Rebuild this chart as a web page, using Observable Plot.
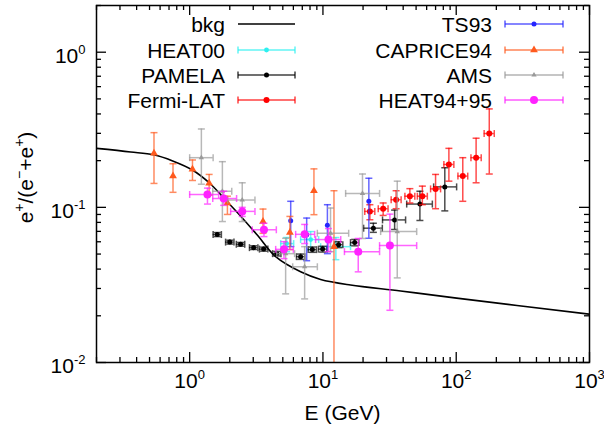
<!DOCTYPE html>
<html><head><meta charset="utf-8">
<script src="https://cdn.jsdelivr.net/npm/d3@7"></script>
<script src="https://cdn.jsdelivr.net/npm/@observablehq/plot@0.6"></script>
<style>body{margin:0;background:#fff;}</style>
</head><body><div id="chart"></div>
<script>
// ---- background model ----
const bkgE = [0.2, 0.361, 0.537, 0.746, 1.048, 1.413, 1.93, 2.54, 3.24, 4.42, 6.8, 9.61, 16.1, 38.3, 100.7, 1000];
const bkgR = [0.240, 0.2276, 0.218, 0.199, 0.174, 0.143, 0.1078, 0.0836, 0.0658, 0.0481, 0.0384, 0.0343, 0.0316, 0.0289, 0.0260, 0.0205];

// ---- HEAT00 ----
const heat00E = [5.34, 8.09, 12.5];
const heat00Elo = [4.82, 6.8, 9.61];
const heat00Ehi = [6.03, 9.29, 16.1];
const heat00R = [0.0584, 0.062, 0.0558];
const heat00Rlo = [0.0518, 0.0534, 0.046];
const heat00Rhi = [0.0639, 0.0698, 0.0639];

// ---- PAMELA ----
const pamelaE = [1.61, 2.0, 2.41, 3.02, 3.59, 4.5, 6.8, 8.33, 9.95, 13.1, 17.3, 23.9, 34.5, 53.4, 82.1];
const pamelaElo = [1.50, 1.86, 2.24, 2.81, 3.34, 4.19, 6.33, 7.75, 9.26, 12.2, 16.1, 20.2, 28.0, 42.5, 67.7];
const pamelaEhi = [1.73, 2.15, 2.59, 3.25, 3.86, 4.84, 7.31, 8.95, 10.7, 14.1, 18.6, 27.9, 41.7, 66.2, 100.7];
const pamelaR = [0.0668, 0.0597, 0.0578, 0.055, 0.0538, 0.0503, 0.0481, 0.0534, 0.0538, 0.0575, 0.0593, 0.0734, 0.083, 0.105, 0.1355];
const pamelaRlo = [0.0648, 0.0580, 0.0562, 0.0535, 0.0522, 0.0486, 0.0462, 0.0513, 0.0515, 0.0550, 0.0565, 0.069, 0.072, 0.0823, 0.0949];
const pamelaRhi = [0.0688, 0.0614, 0.0594, 0.0565, 0.0554, 0.0520, 0.0500, 0.0555, 0.0561, 0.0600, 0.0621, 0.079, 0.096, 0.127, 0.180];

// ---- Fermi-LAT ----
const fermiE = [22.5, 28.3, 35.4, 44.9, 55.7, 70.0, 88.1, 112, 141, 177];
const fermiElo = [20.6, 26.0, 32.5, 41.2, 51.1, 64.2, 80.8, 103, 129, 162];
const fermiEhi = [24.5, 30.8, 38.6, 48.9, 60.7, 76.3, 96.0, 122, 154, 193];
const fermiR = [0.0942, 0.098, 0.112, 0.118, 0.118, 0.1315, 0.189, 0.159, 0.209, 0.299];
const fermiRlo = [0.0832, 0.0887, 0.098, 0.1067, 0.104, 0.098, 0.1475, 0.1094, 0.144, 0.164];
const fermiRhi = [0.104, 0.1067, 0.128, 0.132, 0.137, 0.163, 0.240, 0.209, 0.279, 0.431];

// ---- TS93 ----
const ts93E = [5.73, 7.55, 10.8, 22.1];
const ts93R = [0.082, 0.0665, 0.0767, 0.1094];
const ts93Rlo = [0.0558, 0.0453, 0.0503, 0.0632];
const ts93Rhi = [0.1094, 0.0853, 0.104, 0.154];

// ---- CAPRICE94 ----
const capriceE = [0.54, 0.75, 1.05, 1.40, 1.92, 3.55, 5.65, 8.56, 12.1];
const capriceR = [0.223, 0.159, 0.176, 0.143, 0.1067, 0.081, 0.0689, 0.128, 0.0558];
const capriceRlo = [0.1426, 0.125, 0.149, 0.12, 0.090, 0.068, 0.0534, 0.0897, 0.001];
const capriceRhi = [0.303, 0.191, 0.202, 0.163, 0.118, 0.0975, 0.0874, 0.177, 0.128];

// ---- AMS ----
const amsE = [1.224, 1.76, 2.48, 5.25, 7.29, 11.4, 19.8, 36.1];
const amsElo = [1.0, 1.49, 1.93, 4.5, 5.93, 9.08, 14.8, 27.1];
const amsEhi = [1.50, 2.07, 3.09, 6.13, 9.08, 15.6, 26.6, 50.5];
const amsR = [0.209, 0.127, 0.1115, 0.0503, 0.0414, 0.0681, 0.123, 0.0698];
const amsRlo = [0.141, 0.081, 0.081, 0.0277, 0.0257, 0.0518, 0.063, 0.0351];
const amsRhi = [0.32, 0.197, 0.144, 0.0632, 0.0558, 0.099, 0.164, 0.1475];

// ---- HEAT94+95 ----
const heat9495E = [1.36, 1.80, 2.48, 3.61, 5.10, 7.29, 11.0, 18.4, 31.8];
const heat9495Elo = [1.0, 1.49, 2.03, 2.95, 4.42, 6.24, 8.81, 14.5, 26.6];
const heat9495Ehi = [1.65, 2.25, 3.09, 4.47, 6.0, 8.67, 13.6, 26.6, 50.5];
const heat9495R = [0.121, 0.114, 0.0942, 0.0717, 0.0536, 0.067, 0.062, 0.0518, 0.0567];
const heat9495Rlo = [0.105, 0.103, 0.0874, 0.0648, 0.0467, 0.0584, 0.0518, 0.0384, 0.0217];
const heat9495Rhi = [0.133, 0.127, 0.1, 0.079, 0.0601, 0.0776, 0.073, 0.063, 0.0904];

// ---- axis ticks ----
const xMajorTicks = [1, 10, 100, 1000];
const yMajorTicks = [0.01, 0.1, 1];

// ---- build tables ----
function rows(E, R, Rlo, Rhi, Elo, Ehi) {
  return E.map((e, i) => ({E: e, R: R[i], Rlo: Rlo[i], Rhi: Rhi[i], Elo: Elo ? Elo[i] : e, Ehi: Ehi ? Ehi[i] : e}));
}
const bkg = bkgE.map((e, i) => ({E: e, R: bkgR[i]}));

const series = [
  {label: "HEAT00", color: "#2ef0f0", symbol: "circle", r: 2.4, hasX: true,
   data: rows(heat00E, heat00R, heat00Rlo, heat00Rhi, heat00Elo, heat00Ehi)},
  {label: "PAMELA", color: "#000000", symbol: "circle", r: 2.5, hasX: true,
   data: rows(pamelaE, pamelaR, pamelaRlo, pamelaRhi, pamelaElo, pamelaEhi)},
  {label: "Fermi-LAT", color: "#ff0000", symbol: "circle", r: 3, hasX: true,
   data: rows(fermiE, fermiR, fermiRlo, fermiRhi, fermiElo, fermiEhi)},
  {label: "TS93", color: "#2525ff", symbol: "circle", r: 2.5, hasX: false,
   data: rows(ts93E, ts93R, ts93Rlo, ts93Rhi)},
  {label: "CAPRICE94", color: "#ff5a1e", symbol: "triangle", r: 2.9, hasX: false,
   data: rows(capriceE, capriceR, capriceRlo, capriceRhi)},
  {label: "AMS", color: "#9a9a9a", symbol: "triangle", r: 2, hasX: true,
   data: rows(amsE, amsR, amsRlo, amsRhi, amsElo, amsEhi)},
  {label: "HEAT94+95", color: "#ff22ff", symbol: "circle", r: 4, hasX: true,
   data: rows(heat9495E, heat9495R, heat9495Rlo, heat9495Rhi, heat9495Elo, heat9495Ehi)}
];

const capH = {draw(ctx) { ctx.moveTo(-3.5, 0); ctx.lineTo(3.5, 0); }};
const capV = {draw(ctx) { ctx.moveTo(0, -3.5); ctx.lineTo(0, 3.5); }};

const W = 604, H = 429, mT = 5, mB = 67, mL = 96, mR = 15;
const innerW = W - mL - mR, innerH = H - mT - mB;

function seriesMarks(s) {
  const bar = {stroke: s.color, strokeWidth: 1.5, strokeOpacity: 0.7, clip: true};
  const m = [
    Plot.ruleX(s.data, {x: "E", y1: "Rlo", y2: "Rhi", ...bar}),
    Plot.dot(s.data, {x: "E", y: "Rlo", symbol: capH, fill: "none", ...bar}),
    Plot.dot(s.data, {x: "E", y: "Rhi", symbol: capH, fill: "none", ...bar})
  ];
  if (s.hasX) {
    m.push(
      Plot.ruleY(s.data, {y: "R", x1: "Elo", x2: "Ehi", ...bar}),
      Plot.dot(s.data, {x: "Elo", y: "R", symbol: capV, fill: "none", ...bar}),
      Plot.dot(s.data, {x: "Ehi", y: "R", symbol: capV, fill: "none", ...bar})
    );
  }
  m.push(Plot.dot(s.data, {x: "E", y: "R", symbol: s.symbol, r: s.r, fill: s.color, stroke: "none", clip: true}));
  return m;
}

// minor ticks from scale decades
const xMinor = [], yMinor = [];
for (const d of [0.1, 1, 10, 100]) for (let k = 2; k <= 9; k++) { const v = d * k; if (v >= 0.2 && v < 1000) xMinor.push(v); }
for (const d of [0.01, 0.1, 1]) for (let k = 2; k <= 9; k++) { const v = d * k; if (v <= 2) yMinor.push(v); }

const fmt = d => "10^" + Math.round(Math.log10(d));

const svg = Plot.plot({
  width: W, height: H,
  marginTop: mT, marginBottom: mB, marginLeft: mL, marginRight: mR,
  style: {fontFamily: "'Liberation Sans', Arial, Helvetica, sans-serif", fontSize: "21px", background: "white", color: "black"},
  x: {type: "log", domain: [0.2, 1000]},
  y: {type: "log", domain: [0.01, 2]},
  marks: [
    // inward ticks
    Plot.tickX(xMajorTicks, {x: d => d, insetTop: innerH - 10, stroke: "black", strokeWidth: 1.3}),
    Plot.tickX(xMajorTicks, {x: d => d, insetBottom: innerH - 10, stroke: "black", strokeWidth: 1.3}),
    Plot.tickX(xMinor, {x: d => d, insetTop: innerH - 5, stroke: "black", strokeWidth: 1.3}),
    Plot.tickX(xMinor, {x: d => d, insetBottom: innerH - 5, stroke: "black", strokeWidth: 1.3}),
    Plot.tickY(yMajorTicks, {y: d => d, insetRight: innerW - 10, stroke: "black", strokeWidth: 1.3}),
    Plot.tickY(yMajorTicks, {y: d => d, insetLeft: innerW - 10, stroke: "black", strokeWidth: 1.3}),
    Plot.tickY(yMinor, {y: d => d, insetRight: innerW - 5, stroke: "black", strokeWidth: 1.3}),
    Plot.tickY(yMinor, {y: d => d, insetLeft: innerW - 5, stroke: "black", strokeWidth: 1.3}),
    Plot.axisX({ticks: xMajorTicks, tickSize: 0, tickPadding: 11, tickFormat: fmt}),
    Plot.axisY({ticks: yMajorTicks, tickSize: 0, tickPadding: 11, tickFormat: fmt, dy: 4}),
    Plot.line(bkg, {x: "E", y: "R", stroke: "black", strokeWidth: 1.6, curve: "catmull-rom", clip: true}),
    ...series.flatMap(seriesMarks),
    Plot.frame({stroke: "black", strokeWidth: 1.5})
  ]
});

const NS = "http://www.w3.org/2000/svg";
// superscripts in tick labels
svg.querySelectorAll('[aria-label="x-axis tick label"] text, [aria-label="y-axis tick label"] text').forEach(t => {
  const s = t.textContent;
  if (s.includes("^")) {
    const [b, e] = s.split("^");
    t.textContent = b;
    const ts = document.createElementNS(NS, "tspan");
    ts.setAttribute("dy", "-9");
    ts.setAttribute("font-size", "13");
    ts.textContent = e;
    t.appendChild(ts);
  }
});

const root = d3.select(svg);
// axis titles
root.append("text")
  .attr("x", mL + innerW / 2).attr("y", 420)
  .attr("text-anchor", "middle").attr("fill", "black")
  .text("E (GeV)");
const yl = root.append("text")
  .attr("transform", `translate(33,${mT + innerH / 2 - 6}) rotate(-90)`)
  .attr("text-anchor", "middle").attr("fill", "black");
const parts = [["e", null], ["+", "sup"], ["/(e", null], ["\u2212", "sup"], ["+e", null], ["+", "sup"], [")", null]];
parts.forEach(([txt, kind], i) => {
  const ts = yl.append("tspan").text(txt);
  const prev = i > 0 ? parts[i - 1][1] : null;
  if (kind === "sup") ts.attr("font-size", 14).attr("dy", -9);
  else if (prev === "sup") ts.attr("dy", 9);
});

// legend
const legend = [{label: "bkg", line: true, color: "black"}, ...series];
const rowY = [24, 50, 75, 100];
const colTextEnd = [225, 492];
const colSample = [[238, 295], [505, 563]];
const lg = root.append("g");
legend.forEach((item, i) => {
  const col = Math.floor(i / 4), row = i % 4;
  const y = rowY[row];
  lg.append("text").attr("x", colTextEnd[col]).attr("y", y).attr("dy", "0.36em")
    .attr("text-anchor", "end").attr("fill", "black").text(item.label);
  const [a, b] = colSample[col];
  if (item.line) {
    lg.append("line").attr("x1", a).attr("x2", b).attr("y1", y).attr("y2", y)
      .attr("stroke", "black").attr("stroke-width", 1.6);
    return;
  }
  const g = lg.append("g").attr("stroke", item.color).attr("stroke-width", 1.5).attr("stroke-opacity", 0.75);
  g.append("line").attr("x1", a).attr("x2", b).attr("y1", y).attr("y2", y);
  g.append("line").attr("x1", a).attr("x2", a).attr("y1", y - 3.5).attr("y2", y + 3.5);
  g.append("line").attr("x1", b).attr("x2", b).attr("y1", y - 3.5).attr("y2", y + 3.5);
  const sym = item.symbol === "triangle" ? d3.symbolTriangle : d3.symbolCircle;
  lg.append("path").attr("transform", `translate(${(a + b) / 2},${y})`)
    .attr("d", d3.symbol(sym, Math.PI * item.r * item.r)()).attr("fill", item.color);
});

document.getElementById("chart").appendChild(svg);
</script></body></html>
